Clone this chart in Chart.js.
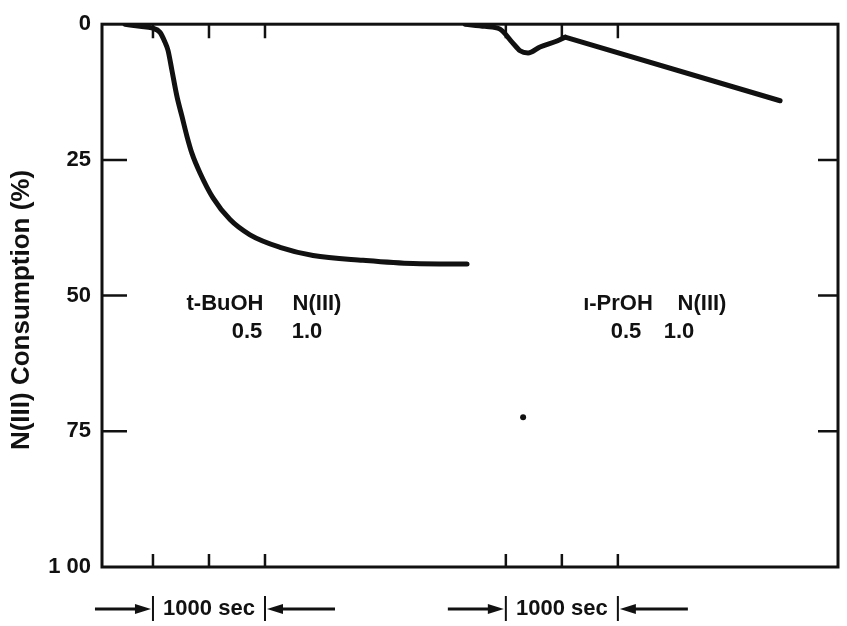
<!DOCTYPE html>
<html>
<head>
<meta charset="utf-8">
<script src="https://cdn.jsdelivr.net/npm/chart.js@4.4.1/dist/chart.umd.min.js"></script>
<style>
  html, body { margin: 0; padding: 0; background: #fff; }
  #wrap { width: 847px; height: 626px; }
</style>
</head>
<body>
<div id="wrap"><canvas id="chart"></canvas></div>
<script>
/* N(III) consumption vs time, t-BuOH and i-PrOH runs */
const INK = "#111";
const FONT = "'Liberation Sans', Arial, sans-serif";

// time in sec (shared axis, two runs placed side by side), consumption in %
const buohSec = [-250, -116, -9, 63, 107, 134, 170, 214, 259, 304, 348, 420, 536, 688, 866, 1134, 1429, 1875, 2321, 2804];
const buohPct = [0, 0.4, 0.7, 1.5, 3.3, 4.8, 8.6, 13.3, 17.0, 20.7, 23.8, 27.4, 32.0, 36.0, 38.8, 41.1, 42.6, 43.5, 44.1, 44.2];
// i-PrOH: early dip, then a straight run
const prohDipSec = [2786, 2964, 3098, 3205, 3277, 3348, 3455, 3607, 3679];
const prohDipPct = [0, 0.4, 0.9, 3.3, 4.9, 5.3, 4.2, 3.1, 2.4];
const prohTailSec = [3679, 5598];
const prohTailPct = [2.4, 14.1];
const specklePoint = [{ x: 3304, y: 72.4 }];

const xRange = [-455, 6115];
const xTicks = [0, 500, 1000, 3150, 3650, 4150];
const yTicks = [0, 25, 50, 75, 100];
const yTickLabels = ["0", "25", "50", "75", "1 00"];
const yMinorMarks = [25, 50, 75];
const spans = [[0, 1000], [3150, 4150]];
const runHeads = [["t-BuOH", "N(III)"], ["\u0131-PrOH", "N(III)"]];
const runVals = [["0.5", "1.0"], ["0.5", "1.0"]];

// label centres (px) for each run: head0, head1, val0, val1
const labelX = [[225, 317, 247, 307], [618, 702, 626, 679]];

const toPts = (xs, ys) => xs.map((x, i) => ({ x, y: ys[i] }));
const curve = (pts, mode) => ({
  data: pts, showLine: true, borderColor: INK, borderWidth: 5, pointRadius: 0,
  cubicInterpolationMode: mode, tension: 0, borderCapStyle: "round", borderJoinStyle: "round"
});

const framePlugin = {
  id: "frame",
  beforeDatasetsDraw(chart) {
    const { ctx, chartArea: a, scales } = chart;
    ctx.save();
    ctx.strokeStyle = INK;
    ctx.lineWidth = 3;
    ctx.strokeRect(a.left, a.top, a.right - a.left, a.bottom - a.top);
    ctx.lineWidth = 2.5;
    ctx.beginPath();
    xTicks.forEach(v => {
      const px = scales.x.getPixelForValue(v);
      ctx.moveTo(px, a.bottom); ctx.lineTo(px, a.bottom - 13);
      ctx.moveTo(px, a.top); ctx.lineTo(px, a.top + 14);
    });
    yMinorMarks.forEach(v => {
      const py = scales.y.getPixelForValue(v);
      ctx.moveTo(a.left, py); ctx.lineTo(a.left + 25, py);
      ctx.moveTo(a.right, py); ctx.lineTo(a.right - 20, py);
    });
    ctx.stroke();
    ctx.restore();
  },
  afterDraw(chart) {
    const { ctx, chartArea: a, scales } = chart;
    const x = scales.x;
    ctx.save();
    ctx.fillStyle = INK;
    ctx.strokeStyle = INK;

    // y title
    ctx.save();
    ctx.translate(22, 310);
    ctx.rotate(-Math.PI / 2);
    ctx.font = "bold 26px " + FONT;
    ctx.textAlign = "center";
    ctx.textBaseline = "middle";
    ctx.fillText("N(III) Consumption (%)", 0, 0);
    ctx.restore();

    // run labels
    ctx.font = "bold 22px " + FONT;
    ctx.textAlign = "center";
    ctx.textBaseline = "middle";
    runHeads.forEach((h, i) => {
      const lx = labelX[i];
      ctx.fillText(h[0], lx[0], 304);
      ctx.fillText(h[1], lx[1], 304);
      ctx.fillText(runVals[i][0], lx[2], 332);
      ctx.fillText(runVals[i][1], lx[3], 332);
    });

    // 1000 sec spans
    spans.forEach(([s0, s1]) => {
      const p0 = x.getPixelForValue(s0), p1 = x.getPixelForValue(s1);
      const yy = a.bottom + 42;
      ctx.lineWidth = 3;
      ctx.beginPath();
      ctx.moveTo(p0 - 58, yy); ctx.lineTo(p0 - 14, yy);
      ctx.moveTo(p1 + 14, yy); ctx.lineTo(p1 + 70, yy);
      ctx.stroke();
      ctx.lineWidth = 2;
      ctx.beginPath();
      ctx.moveTo(p0, yy - 13); ctx.lineTo(p0, yy + 12);
      ctx.moveTo(p1, yy - 13); ctx.lineTo(p1, yy + 12);
      ctx.stroke();
      ctx.beginPath();
      ctx.moveTo(p0 - 2, yy); ctx.lineTo(p0 - 18, yy - 5); ctx.lineTo(p0 - 18, yy + 5); ctx.closePath();
      ctx.moveTo(p1 + 2, yy); ctx.lineTo(p1 + 18, yy - 5); ctx.lineTo(p1 + 18, yy + 5); ctx.closePath();
      ctx.fill();
      ctx.font = "bold 22px " + FONT;
      ctx.fillText("1000 sec", (p0 + p1) / 2, yy);
    });
    ctx.restore();
  }
};

new Chart(document.getElementById("chart"), {
  type: "scatter",
  data: {
    datasets: [
      curve(toPts(buohSec, buohPct), "monotone"),
      curve(toPts(prohDipSec, prohDipPct), "monotone"),
      curve(toPts(prohTailSec, prohTailPct), "default"),
      { data: specklePoint, pointRadius: 3, backgroundColor: INK, borderWidth: 0 }
    ]
  },
  options: {
    responsive: true,
    maintainAspectRatio: false,
    animation: false,
    devicePixelRatio: 1,
    layout: { padding: { left: 0, right: 9, top: 20, bottom: 59 } },
    plugins: { legend: { display: false }, tooltip: { enabled: false } },
    scales: {
      x: { type: "linear", display: false, min: xRange[0], max: xRange[1] },
      y: {
        type: "linear", reverse: true, min: 0, max: 100,
        afterBuildTicks: s => { s.ticks = yTicks.map(v => ({ value: v })); },
        afterFit: s => { s.width = 102; },
        grid: { display: false, drawTicks: false },
        border: { display: false },
        ticks: {
          color: INK, padding: 11, font: { family: FONT, size: 22, weight: "bold" },
          callback: v => yTickLabels[yTicks.indexOf(v)]
        }
      }
    }
  },
  plugins: [framePlugin]
});
</script>
</body>
</html>
